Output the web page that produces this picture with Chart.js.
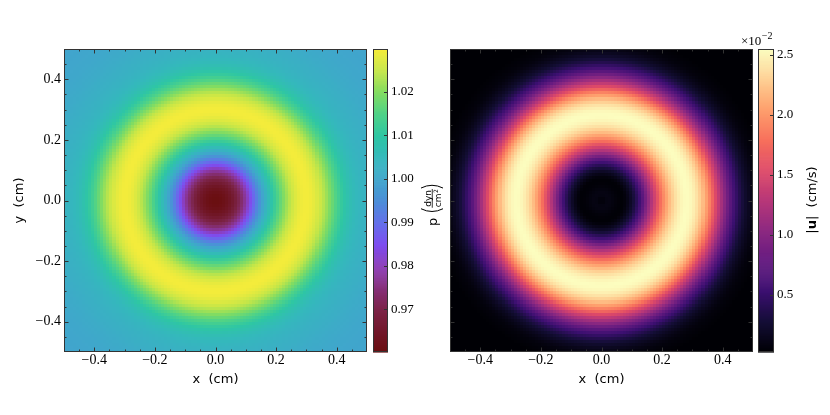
<!DOCTYPE html>
<html>
<head>
<meta charset="utf-8">
<script src="https://cdn.jsdelivr.net/npm/chart.js@4.4.0/dist/chart.umd.min.js"></script>
<style>
    html, body { margin: 0; padding: 0; background: #fff; }
    #fig { position: relative; width: 830px; height: 415px; overflow: hidden; }
    .box { position: absolute; top: 0; height: 415px; }
</style>
</head>
<body>
<div id="fig">
    <div class="box" style="left:0;width:370px"><canvas id="pressureMap"></canvas></div>
    <div class="box" style="left:370px;width:80px"><canvas id="pressureBar"></canvas></div>
    <div class="box" style="left:440px;width:316px"><canvas id="speedMap"></canvas></div>
    <div class="box" style="left:735px;width:95px"><canvas id="speedBar"></canvas></div>
</div>
<script>
// radial profiles, one value every 0.01 cm from the centre
const RADIAL_STEP = 0.01;
const pressureProfile = [
    0.9603, 0.9605, 0.9610, 0.9619, 0.9632, 0.9648, 0.9668, 0.9692, 0.9720, 0.9752,
    0.9787, 0.9825, 0.9864, 0.9903, 0.9941, 0.9977, 1.0011, 1.0043, 1.0073, 1.0102,
    1.0130, 1.0157, 1.0183, 1.0207, 1.0229, 1.0249, 1.0265, 1.0278, 1.0288, 1.0294,
    1.0296, 1.0294, 1.0288, 1.0278, 1.0265, 1.0249, 1.0230, 1.0209, 1.0187, 1.0164,
    1.0142, 1.0121, 1.0102, 1.0086, 1.0073, 1.0062, 1.0053, 1.0046, 1.0040, 1.0036,
    1.0032, 1.0029, 1.0026, 1.0024, 1.0021, 1.0018, 1.0015, 1.0012, 1.0010, 1.0008,
    1.0006, 1.0004, 1.0002, 1.0001, 1.0000, 0.9999, 0.9998, 0.9997, 0.9996, 0.9996,
    0.9995, 0.9995
];
// |u| in units of 1e-2 cm/s
const speedProfile = [
    0.03, 0.08, 0.10, 0.09, 0.07, 0.05, 0.04, 0.04, 0.08, 0.15,
    0.24, 0.35, 0.48, 0.63, 0.80, 0.98, 1.16, 1.34, 1.52, 1.69,
    1.85, 2.00, 2.13, 2.25, 2.35, 2.43, 2.49, 2.53, 2.55, 2.54,
    2.51, 2.45, 2.37, 2.26, 2.13, 1.98, 1.81, 1.63, 1.45, 1.27,
    1.10, 0.94, 0.79, 0.66, 0.54, 0.43, 0.34, 0.26, 0.20, 0.15,
    0.11, 0.08, 0.06, 0.05, 0.04, 0.03, 0.03, 0.03, 0.03, 0.03,
    0.03, 0.03, 0.03, 0.03, 0.03, 0.03, 0.03, 0.03, 0.03, 0.03,
    0.03, 0.03
];

const axisTicks = [-0.4, -0.2, 0.0, 0.2, 0.4];
const minorTicks = [-0.45, -0.35, -0.3, -0.25, -0.15, -0.1, -0.05, 0.05, 0.1, 0.15, 0.25, 0.3, 0.35, 0.45];
const pressureTicks = [0.97, 0.98, 0.99, 1.00, 1.01, 1.02];
const speedTicks = [0.5, 1.0, 1.5, 2.0, 2.5];
const pressureRange = [0.9602, 1.0298];
const speedRange = [0.025, 2.55];

const GRID_N = 100;
const CELL = 1 / GRID_N;

// colour maps
const colormaps = {
    pressure: [
        [0.000, [106, 14, 16]], [0.069, [114, 24, 42]], [0.140, [124, 36, 72]],
        [0.212, [134, 48, 122]], [0.284, [140, 60, 184]], [0.355, [126, 78, 240]],
        [0.427, [100, 112, 234]], [0.499, [76, 142, 216]], [0.570, [64, 166, 204]],
        [0.642, [52, 184, 188]], [0.713, [46, 198, 164]], [0.785, [78, 210, 136]],
        [0.857, [130, 220, 98]], [0.928, [196, 230, 72]], [1.000, [246, 236, 58]]
    ],
    magma: [
        [0.0, [0, 0, 4]], [0.1, [20, 14, 54]], [0.2, [59, 15, 112]], [0.3, [100, 26, 128]],
        [0.4, [140, 41, 129]], [0.5, [183, 55, 121]], [0.6, [222, 73, 104]], [0.7, [247, 112, 92]],
        [0.8, [254, 159, 109]], [0.9, [254, 207, 146]], [1.0, [252, 253, 191]]
    ]
};

function colorAt(name, range, v) {
    const stops = colormaps[name];
    let t = (v - range[0]) / (range[1] - range[0]);
    t = Math.max(0, Math.min(1, t));
    for (let i = 1; i < stops.length; i++) {
        if (t <= stops[i][0]) {
            const [t0, c0] = stops[i - 1];
            const [t1, c1] = stops[i];
            const f = (t - t0) / (t1 - t0);
            return 'rgb(' + c0.map((c, k) => Math.round(c + (c1[k] - c) * f)).join(',') + ')';
        }
    }
    return 'rgb(' + stops[stops.length - 1][1].join(',') + ')';
}

// each cell gets the profile at its radius, shaded between the two nearest
// samples (what imshow's smoothing does) so the rings do not band
function buildCells(profile) {
    const cells = [];
    for (let i = 0; i < GRID_N; i++) {
        for (let j = 0; j < GRID_N; j++) {
            const x = -0.5 + (i + 0.5) * CELL;
            const y = -0.5 + (j + 0.5) * CELL;
            const s = Math.min(profile.length - 1.001, Math.hypot(x, y) / RADIAL_STEP);
            const k = Math.floor(s);
            const v = profile[k] + (profile[k + 1] - profile[k]) * (s - k);
            cells.push({ x: x, y: y, v: v });
        }
    }
    return cells;
}

const fmt = (v, d) => v.toFixed(d).replace('-', '\u2212');
const tickFont = { family: "'Liberation Serif', 'Times New Roman', serif", size: 14 };
const barTickFont = { family: "'Liberation Serif', 'Times New Roman', serif", size: 13 };
const labelFont = { family: "'DejaVu Sans', sans-serif", size: 13 };

Chart.defaults.animation = false;
Chart.defaults.color = '#000';
Chart.defaults.font.family = "'DejaVu Sans', sans-serif";

// cells of the field, drawn through the chart scales
const heatmapLayer = {
    id: 'heatmapLayer',
    beforeDatasetsDraw(chart) {
        const ds = chart.data.datasets[0];
        const { ctx, chartArea: a, scales: { x, y } } = chart;
        ctx.save();
        ctx.beginPath();
        ctx.rect(a.left, a.top, a.width, a.height);
        ctx.clip();
        ds.data.forEach(c => {
            const l = Math.round(x.getPixelForValue(c.x - CELL / 2));
            const r = Math.round(x.getPixelForValue(c.x + CELL / 2));
            const t = Math.round(y.getPixelForValue(c.y + CELL / 2));
            const b = Math.round(y.getPixelForValue(c.y - CELL / 2));
            ctx.fillStyle = colorAt(ds.cmap, ds.range, c.v);
            ctx.fillRect(l, t, r - l, b - t);
        });
        ctx.restore();
    }
};

// frame plus inward ticks on all four sides
const frameTicks = {
    id: 'frameTicks',
    afterDraw(chart) {
        const { ctx, chartArea: a, scales: { x, y } } = chart;
        ctx.save();
        ctx.strokeStyle = '#333';
        ctx.lineWidth = 1;
        ctx.beginPath();
        const mark = (vals, len) => {
            vals.forEach(v => {
                const px = Math.round(x.getPixelForValue(v)) + 0.5;
                const py = Math.round(y.getPixelForValue(v)) + 0.5;
                ctx.moveTo(px, a.bottom); ctx.lineTo(px, a.bottom - len);
                ctx.moveTo(px, a.top); ctx.lineTo(px, a.top + len);
                ctx.moveTo(a.left, py); ctx.lineTo(a.left + len, py);
                ctx.moveTo(a.right, py); ctx.lineTo(a.right - len, py);
            });
        };
        mark(axisTicks, 4.5);
        mark(minorTicks, 2.5);
        ctx.stroke();
        ctx.strokeRect(a.left + 0.5, a.top + 0.5, a.width - 1, a.height - 1);
        ctx.restore();
    }
};

// colour strip of a colorbar
const colorbarStrip = {
    id: 'colorbarStrip',
    beforeDatasetsDraw(chart) {
        const ds = chart.data.datasets[0];
        const { ctx, chartArea: a, scales: { y } } = chart;
        const n = 300;
        ctx.save();
        for (let i = 0; i < n; i++) {
            const v0 = ds.range[0] + (ds.range[1] - ds.range[0]) * i / n;
            const v1 = ds.range[0] + (ds.range[1] - ds.range[0]) * (i + 1) / n;
            const p0 = y.getPixelForValue(v0), p1 = y.getPixelForValue(v1);
            ctx.fillStyle = colorAt(ds.cmap, ds.range, (v0 + v1) / 2);
            ctx.fillRect(a.left, p1, a.width, p0 - p1 + 0.6);
        }
        ctx.strokeStyle = '#333';
        ctx.lineWidth = 1;
        ctx.beginPath();
        ds.ticks.forEach(v => {
            const py = Math.round(y.getPixelForValue(v)) + 0.5;
            ctx.moveTo(a.right, py); ctx.lineTo(a.right - 4, py);
        });
        ctx.stroke();
        ctx.strokeRect(a.left + 0.5, a.top + 0.5, a.width - 1, a.height - 1);
        ctx.restore();
    }
};

function mapChart(id, cells, cmap, range, withY) {
    return new Chart(document.getElementById(id), {
        type: 'scatter',
        data: { datasets: [{ data: cells, cmap: cmap, range: range, pointRadius: 0, showLine: false }] },
        options: {
            responsive: true,
            maintainAspectRatio: false,
            events: [],
            layout: { padding: { left: 0, top: 49, right: 3, bottom: 24 } },
            plugins: { legend: { display: false }, tooltip: { enabled: false } },
            scales: {
                x: {
                    min: -0.5, max: 0.5,
                    afterBuildTicks: s => { s.ticks = axisTicks.map(value => ({ value })); },
                    afterFit: s => { s.height = 39; },
                    grid: { display: false, drawTicks: false },
                    border: { display: false },
                    ticks: { font: tickFont, padding: 0, maxRotation: 0, callback: v => fmt(v, 1) },
                    title: { display: true, text: 'x  (cm)', font: labelFont, padding: { top: 0, bottom: 4 } }
                },
                y: {
                    min: -0.5, max: 0.5,
                    afterBuildTicks: s => { s.ticks = axisTicks.map(value => ({ value })); },
                    afterFit: s => { s.width = withY ? 64 : 10; },
                    grid: { display: false, drawTicks: false },
                    border: { display: false },
                    ticks: { display: withY, font: tickFont, padding: 3, callback: v => fmt(v, 1) },
                    title: { display: withY, text: 'y  (cm)', font: labelFont, padding: { top: 12, bottom: 0 } }
                }
            }
        },
        plugins: [heatmapLayer, frameTicks]
    });
}

function barChart(id, cmap, range, ticks, digits, pad, extra) {
    return new Chart(document.getElementById(id), {
        type: 'scatter',
        data: { datasets: [{ data: [], cmap: cmap, range: range, ticks: ticks }] },
        options: {
            responsive: true,
            maintainAspectRatio: false,
            events: [],
            layout: { padding: pad },
            plugins: { legend: { display: false }, tooltip: { enabled: false } },
            scales: {
                x: { display: false, min: 0, max: 1 },
                y: {
                    position: 'right',
                    min: range[0], max: range[1],
                    afterBuildTicks: s => { s.ticks = ticks.map(value => ({ value })); },
                    afterFit: s => { s.width = 40; },
                    grid: { display: false, drawTicks: false },
                    border: { display: false },
                    ticks: { font: barTickFont, padding: 3, callback: v => fmt(v, digits) }
                }
            }
        },
        plugins: [colorbarStrip, { id: 'barLabel', afterDraw: extra }]
    });
}

function drawPressureLabel(chart) {
    const ctx = chart.ctx;
    ctx.save();
    ctx.translate(63, 201);
    ctx.rotate(-Math.PI / 2);
    ctx.fillStyle = '#000';
    ctx.strokeStyle = '#000';
    ctx.lineWidth = 1;
    ctx.textBaseline = 'alphabetic';
    let x = -25;
    ctx.font = "13px 'DejaVu Sans'";
    ctx.fillText('p', x, 4);
    x += ctx.measureText('p').width + 5;
    // left bracket
    ctx.beginPath();
    ctx.moveTo(x + 4, -12);
    ctx.quadraticCurveTo(x - 1.5, -1, x + 4, 10);
    ctx.stroke();
    x += 5;
    ctx.font = "9px 'DejaVu Sans'";
    const wTop = ctx.measureText('dyn').width;
    const wCm = ctx.measureText('cm').width;
    const fw = Math.max(wTop, wCm + 4) + 1;
    ctx.fillText('dyn', x + (fw - wTop) / 2, -2.5);
    ctx.fillRect(x, -1.2, fw, 0.8);
    ctx.fillText('cm', x + (fw - wCm - 4) / 2, 8);
    ctx.font = "6px 'DejaVu Sans'";
    ctx.fillText('2', x + (fw - wCm - 4) / 2 + wCm + 0.5, 4.5);
    x += fw + 1;
    // right bracket
    ctx.beginPath();
    ctx.moveTo(x, -12);
    ctx.quadraticCurveTo(x + 5.5, -1, x, 10);
    ctx.stroke();
    ctx.restore();
}

function drawSpeedLabel(chart) {
    const ctx = chart.ctx;
    const parts = [['|', ''], ['u', 'bold '], ['|', ''], ['  (cm/s)', '']];
    ctx.save();
    ctx.translate(76, 200);
    ctx.rotate(-Math.PI / 2);
    ctx.fillStyle = '#000';
    let total = 0;
    parts.forEach(p => { ctx.font = p[1] + "13px 'DejaVu Sans'"; total += ctx.measureText(p[0]).width; });
    let x = -total / 2;
    parts.forEach(p => {
        ctx.font = p[1] + "13px 'DejaVu Sans'";
        ctx.fillText(p[0], x, 4.5);
        x += ctx.measureText(p[0]).width;
    });
    ctx.restore();
    // offset text of the colorbar
    ctx.save();
    ctx.fillStyle = '#000';
    ctx.font = "13px 'Liberation Serif'";
    ctx.fillText('\u00d710', 6, 45);
    const w = ctx.measureText('\u00d710').width;
    ctx.font = "10px 'Liberation Serif'";
    ctx.fillText('\u22122', 6 + w + 0.5, 39);
    ctx.restore();
}

mapChart('pressureMap', buildCells(pressureProfile), 'pressure', pressureRange, true);
barChart('pressureBar', 'pressure', pressureRange, pressureTicks, 2,
    { left: 3, top: 49, right: 22, bottom: 63 }, drawPressureLabel);
mapChart('speedMap', buildCells(speedProfile), 'magma', speedRange, false);
barChart('speedBar', 'magma', speedRange, speedTicks, 1,
    { left: 23, top: 49, right: 16, bottom: 63 }, drawSpeedLabel);
</script>
</body>
</html>
